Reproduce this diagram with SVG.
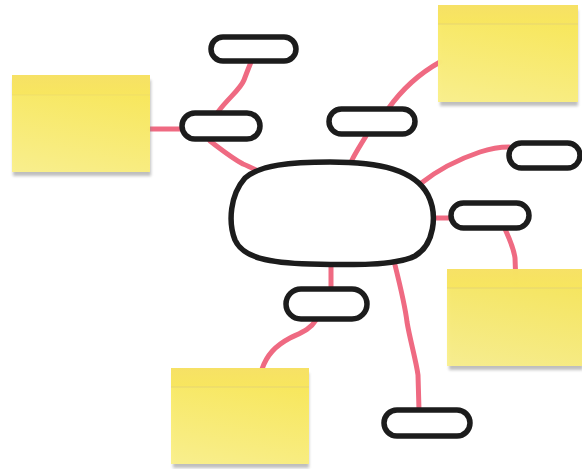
<svg xmlns="http://www.w3.org/2000/svg" width="582" height="469" viewBox="0 0 582 469">
<defs>
<linearGradient id="body" x1="0.3" y1="0" x2="0" y2="1">
<stop offset="0" stop-color="#f9e85a"/>
<stop offset="1" stop-color="#faf08c"/>
</linearGradient>
<linearGradient id="head" x1="0" y1="0" x2="0" y2="1">
<stop offset="0" stop-color="#f6e066"/>
<stop offset="1" stop-color="#f8e65e"/>
</linearGradient>
<filter id="sh" x="-10%" y="-10%" width="120%" height="130%">
<feGaussianBlur stdDeviation="1.6"/>
</filter>
</defs>
<style>
.con{fill:none;stroke:#ef6a82;stroke-width:5;stroke-linecap:round}
.pill{fill:#fff;stroke:#1c1c1c;stroke-width:5.5;stroke-linejoin:round}
.shadow{fill:#8a8a8a;opacity:0.55}
.body{fill:url(#body)}
.head{fill:url(#head)}
.hline{stroke:#e6d572;stroke-width:1}
</style>
<rect width="582" height="469" fill="#fff"/>
<g id="connectors">
<path class="con" d="M180,129 L150,129"/>
<path class="con" d="M218,112 C228,98 240,90 244,80 C247,72 249,67 251,62"/>
<path class="con" d="M210,141 C222,150 232,158 243,164 C248,166 252,168 256,170"/>
<path class="con" d="M366,136 C360,146 356,152 352,160"/>
<path class="con" d="M388,109 C400,92 415,76 440,62"/>
<path class="con" d="M420,184 C440,168 462,158 480,152 C492,148 500,147 509,147"/>
<path class="con" d="M433,218 L451,218"/>
<path class="con" d="M505,229 C510,240 514,250 515,258 L516,285"/>
<path class="con" d="M331,265 L331,289"/>
<path class="con" d="M316,320 C310,330 300,333 290,338 C275,346 267,355 262,369"/>
<path class="con" d="M395,265 C400,285 405,305 407,322 C410,340 416,360 418,375 L419,410"/>
</g>
<g id="note-left">
<rect class="shadow" x="13" y="80" width="138" height="96" filter="url(#sh)"/>
<rect class="body" x="12" y="75" width="138" height="97" opacity="0.97"/>
<rect class="head" x="12" y="75" width="138" height="20" opacity="0.9"/>
<line class="hline" x1="12" y1="95" x2="150" y2="95" opacity="0.5"/>
</g>
<g id="note-topright">
<rect class="shadow" x="440" y="10" width="138" height="96" filter="url(#sh)"/>
<rect class="body" x="438" y="5" width="140" height="97" opacity="0.97"/>
<rect class="head" x="438" y="5" width="140" height="19" opacity="0.9"/>
<line class="hline" x1="438" y1="24" x2="578" y2="24"/>
</g>
<g id="note-right">
<rect class="shadow" x="449" y="274" width="134" height="96" filter="url(#sh)"/>
<rect class="body" x="447" y="269" width="136" height="97" opacity="0.93"/>
<rect class="head" x="447" y="269" width="136" height="19" opacity="0.9"/>
<line class="hline" x1="447" y1="288" x2="583" y2="288"/>
</g>
<g id="note-bottom">
<rect class="shadow" x="173" y="373" width="136" height="95" filter="url(#sh)"/>
<rect class="body" x="171" y="368" width="138" height="96" opacity="0.97"/>
<rect class="head" x="171" y="368" width="138" height="19" opacity="0.9"/>
<line class="hline" x1="171" y1="387" x2="309" y2="387"/>
</g>
<g id="center">
<path class="pill" d="M330,162 C380,162 415,170 428,195 C438,215 434,245 415,256 C395,266 350,265 310,264 C270,263 243,258 235,240 C228,222 230,195 245,178 C260,165 290,162 330,162 Z"/>
</g>
<g id="pill-a">
<rect class="pill" x="211" y="37" width="85" height="24" rx="12"/>
</g>
<g id="pill-b">
<rect class="pill" x="182" y="113" width="78" height="26" rx="13"/>
</g>
<g id="pill-c">
<rect class="pill" x="329" y="109" width="86" height="25" rx="12.5"/>
</g>
<g id="pill-d">
<rect class="pill" x="509" y="143" width="71" height="25" rx="12.5"/>
</g>
<g id="pill-e">
<rect class="pill" x="451" y="203" width="78" height="25" rx="12.5"/>
</g>
<g id="pill-f">
<rect class="pill" x="286" y="289" width="81" height="30" rx="15"/>
</g>
<g id="pill-g">
<rect class="pill" x="384" y="410" width="86" height="26" rx="13"/>
</g>
</svg>
